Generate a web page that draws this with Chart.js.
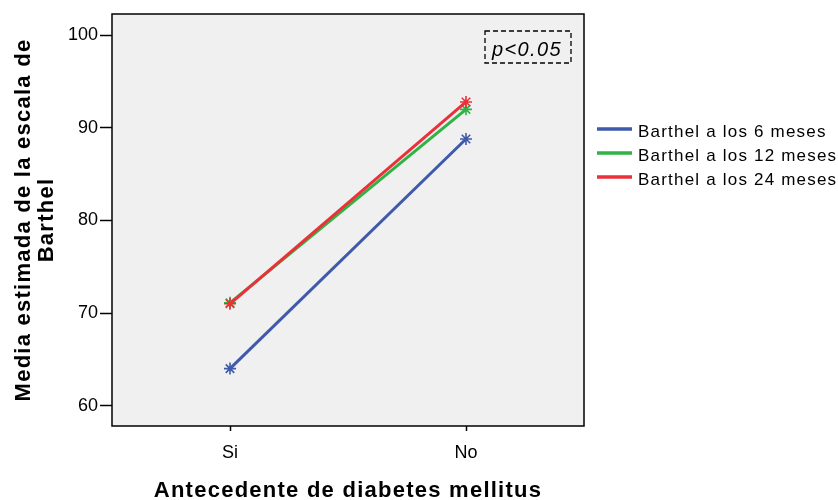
<!DOCTYPE html>
<html>
<head>
<meta charset="utf-8">
<script src="https://cdn.jsdelivr.net/npm/chart.js@4/dist/chart.umd.min.js"></script>
<style>
  html, body { margin: 0; padding: 0; background: #ffffff; }
  #wrap { width: 838px; height: 500px; }
</style>
</head>
<body>
<div id="wrap"><canvas id="c" width="838" height="500"></canvas></div>
<script>
// Estimated Barthel means by history of diabetes mellitus
const categories = ['Si', 'No'];
const seriesNames = ['Barthel a los 6 meses', 'Barthel a los 12 meses', 'Barthel a los 24 meses'];
const barthel6 = [64.0, 88.8];
const barthel12 = [71.1, 92.0];
const barthel24 = [71.0, 92.8];
const yTicks = [60, 70, 80, 90, 100];
const seriesColors = ['#3f5aab', '#2fb344', '#ea3039'];
const xTitle = 'Antecedente de diabetes mellitus';
const yTitle = ['Media estimada de la escala de', 'Barthel'];
const note = 'p<0.05';

const FONT = "'Liberation Sans', Arial, sans-serif";

function makeSet(label, data, color, order) {
  return {
    label, data, order,
    borderColor: color,
    backgroundColor: color,
    borderWidth: 3,
    pointStyle: 'star',
    pointRadius: 6,
    pointBorderWidth: 1.6,
    pointBorderColor: color,
    tension: 0
  };
}

function spaced(ctx, px) {
  if ('letterSpacing' in ctx) ctx.letterSpacing = px + 'px';
}

// grey plot panel, frame, axis titles, legend and the p-value note
const decor = {
  id: 'decor',
  beforeDraw(chart) {
    const { ctx, chartArea: a } = chart;
    ctx.save();
    ctx.fillStyle = '#f0f0f0';
    ctx.fillRect(a.left, a.top, a.right - a.left, a.bottom - a.top);
    ctx.restore();
  },
  afterDraw(chart) {
    const { ctx, chartArea: a } = chart;
    ctx.save();
    ctx.strokeStyle = '#000';
    ctx.lineWidth = 1.5;
    ctx.strokeRect(a.left, a.top, a.right - a.left, a.bottom - a.top);

    // axis titles
    ctx.fillStyle = '#000';
    ctx.font = 'bold 22px ' + FONT;
    spaced(ctx, 1.25);
    ctx.textAlign = 'center';
    ctx.textBaseline = 'alphabetic';
    ctx.fillText(xTitle, (a.left + a.right) / 2, 497);

    ctx.save();
    ctx.translate(0, (a.top + a.bottom) / 2);
    ctx.rotate(-Math.PI / 2);
    ctx.fillText(yTitle[0], 0, 30);
    ctx.fillText(yTitle[1], 0, 53);
    ctx.restore();

    // legend
    ctx.font = '17px ' + FONT;
    spaced(ctx, 1.2);
    ctx.textAlign = 'left';
    ctx.textBaseline = 'alphabetic';
    ctx.lineWidth = 3.5;
    seriesNames.forEach((name, i) => {
      const y = 129 + i * 24;
      ctx.strokeStyle = seriesColors[i];
      ctx.beginPath();
      ctx.moveTo(597, y);
      ctx.lineTo(632, y);
      ctx.stroke();
      ctx.fillText(name, 638, y + 8);
    });

    // p-value box
    ctx.strokeStyle = '#000';
    ctx.lineWidth = 1.3;
    ctx.setLineDash([5, 3]);
    ctx.strokeRect(485, 31, 86, 32);
    ctx.setLineDash([]);
    ctx.font = 'italic 20px ' + FONT;
    spaced(ctx, 1.4);
    ctx.textAlign = 'center';
    ctx.fillText(note, 527, 56);
    ctx.restore();
  }
};

new Chart(document.getElementById('c'), {
  type: 'line',
  data: {
    labels: categories,
    datasets: [
      makeSet(seriesNames[0], barthel6, seriesColors[0], 2),
      makeSet(seriesNames[1], barthel12, seriesColors[1], 1),
      makeSet(seriesNames[2], barthel24, seriesColors[2], 0)
    ]
  },
  options: {
    responsive: false,
    animation: false,
    devicePixelRatio: 1,
    layout: { padding: { left: 0, right: 254, top: 14, bottom: 0 } },
    plugins: {
      legend: { display: false },
      tooltip: { enabled: false }
    },
    scales: {
      x: {
        type: 'category',
        offset: true,
        grid: {
          offset: false,
          drawOnChartArea: false,
          drawTicks: true,
          tickLength: 5,
          tickWidth: 1.5,
          tickColor: '#000'
        },
        border: { display: false },
        ticks: { color: '#000', font: { family: FONT, size: 18 }, padding: 11 },
        afterFit(scale) { scale.height = 74; }
      },
      y: {
        min: 57.8,
        max: 102.3,
        grid: {
          drawOnChartArea: false,
          drawTicks: true,
          tickLength: 12,
          tickWidth: 1.5,
          tickColor: '#000'
        },
        border: { display: false },
        ticks: { color: '#000', font: { family: FONT, size: 18 }, padding: 2 },
        afterBuildTicks(scale) { scale.ticks = yTicks.map(v => ({ value: v })); },
        afterFit(scale) { scale.width = 112; }
      }
    }
  },
  plugins: [decor]
});
</script>
</body>
</html>
